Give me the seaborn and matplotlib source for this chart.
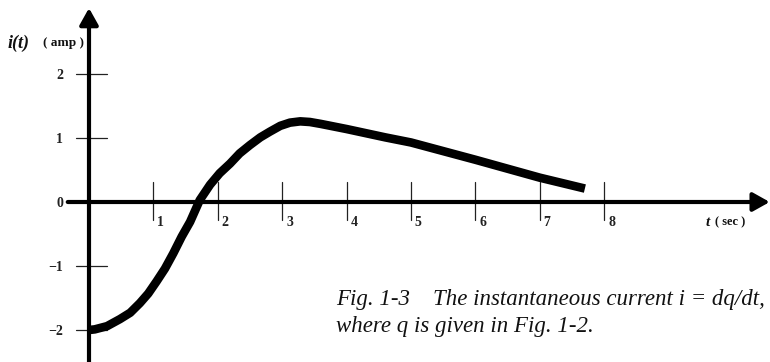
import matplotlib
matplotlib.use("Agg")
import matplotlib.pyplot as plt
import seaborn as sns
import pandas as pd

# data
t_vals = [0.0, 0.09, 0.28, 0.48, 0.64, 0.79, 0.92, 1.05, 1.18, 1.31, 1.44, 1.57,
          1.72, 1.88, 2.03, 2.19, 2.34, 2.50, 2.66, 2.81, 2.97, 3.12, 3.28, 3.43,
          3.6, 4.0, 4.6, 5.0, 6.0, 7.0, 7.7]
i_vals = [-2.0, -1.99, -1.94, -1.83, -1.73, -1.58, -1.43, -1.24, -1.04, -0.80,
          -0.54, -0.31, 0.03, 0.27, 0.45, 0.60, 0.76, 0.89, 1.01, 1.10, 1.19,
          1.24, 1.26, 1.25, 1.22, 1.14, 1.01, 0.93, 0.66, 0.38, 0.21]
x_ticks = [1, 2, 3, 4, 5, 6, 7, 8]
x_tick_labels = ["1", "2", "3", "4", "5", "6", "7", "8"]
y_ticks = [2, 1, 0, -1, -2]
y_tick_labels = ["2", "1", "0", "\u22121", "\u22122"]
caption_lines = ["Fig. 1-3    The instantaneous current i = dq/dt,",
                 "where q is given in Fig. 1-2."]

sns.set_style("white")
plt.rcParams['font.family'] = ['Liberation Serif', 'DejaVu Serif']

fig = plt.figure(figsize=(7.7, 3.62), dpi=100)
ax = fig.add_axes([0, 0, 1, 1])
ax.set_xlim(-89 / 64.4, (770 - 89) / 64.4)
ax.set_ylim(-(362 - 202) / 64.0, 202 / 64.0)
ax.axis("off")

df = pd.DataFrame({"t": t_vals, "i": i_vals})
sns.lineplot(data=df, x="t", y="i", ax=ax, color="black", linewidth=6.2,
             solid_capstyle="butt", solid_joinstyle="round", zorder=5, sort=False)

# axes with arrows
arrow_style = "-|>,head_length=0.5,head_width=0.28"
ax.annotate("", xy=(10.57, 0), xytext=(-0.33, 0), annotation_clip=False,
            arrowprops=dict(arrowstyle=arrow_style, lw=3.0, color="black",
                            shrinkA=0, shrinkB=0, mutation_scale=20))
ax.annotate("", xy=(0, 3.03), xytext=(0, -2.6), annotation_clip=False,
            arrowprops=dict(arrowstyle=arrow_style, lw=3.0, color="black",
                            shrinkA=0, shrinkB=0, mutation_scale=20))

# x ticks and labels
for xt, lab in zip(x_ticks, x_tick_labels):
    ax.plot([xt, xt], [0.31, -0.28], color="#222222", lw=0.9)
    ax.text(xt + 0.06, -0.32, lab, ha="left", va="center", fontsize=10,
            fontweight="bold", color="#222222")

# y ticks and labels
for yt, lab in zip(y_ticks, y_tick_labels):
    if yt != 0:
        ax.plot([-0.2, 0.28], [yt, yt], color="#222222", lw=0.9)
    ax.text(-0.4, yt - 0.03, lab, ha="right", va="center", fontsize=10,
            fontweight="bold", color="#222222")

# axis titles
ax.text(-1.27, 2.48, "i(t)", ha="left", va="center", fontsize=13,
        fontweight="bold", style="italic", color="#111111")
ax.text(-0.72, 2.48, "( amp )", ha="left", va="center", fontsize=9.5,
        fontweight="bold", color="#111111")
ax.text(9.58, -0.32, "t", ha="left", va="center", fontsize=11,
        fontweight="bold", style="italic", color="#111111")
ax.text(9.72, -0.32, "( sec )", ha="left", va="center", fontsize=9,
        fontweight="bold", color="#111111")

# caption
ax.text(3.84, -1.61, caption_lines[0],
        ha="left", va="baseline", fontsize=16.5, style="italic", color="#111111")
ax.text(3.84, -2.03, caption_lines[1],
        ha="left", va="baseline", fontsize=16.5, style="italic", color="#111111")

fig.savefig("out.png", dpi=100)
